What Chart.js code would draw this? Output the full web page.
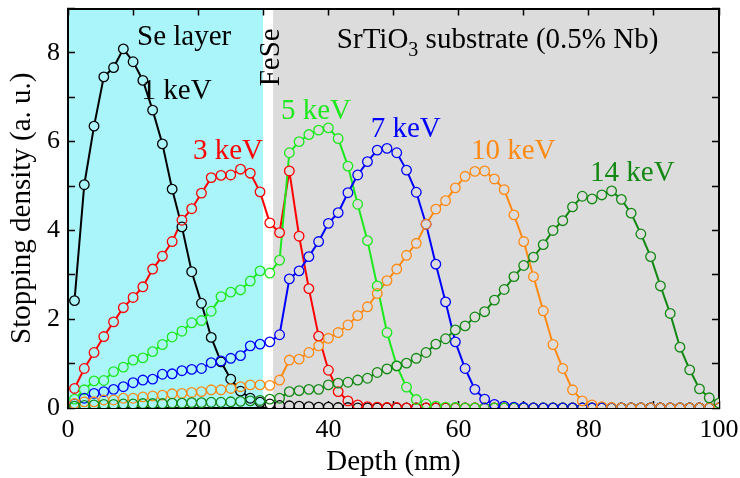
<!DOCTYPE html>
<html lang="en">
<head>
<meta charset="UTF-8">
<title>Stopping profiles</title>
<script src="https://cdn.jsdelivr.net/npm/chart.js@4.4.1/dist/chart.umd.min.js"></script>
<style>
    html, body { margin: 0; padding: 0; background: #fff; }
    #box { position: relative; width: 740px; height: 478px; }
</style>
</head>
<body>
<div id="box"><canvas id="myChart" width="740" height="478"></canvas></div>

<script>
// depth grid (nm)
var depth = [1, 2.5, 4, 5.5, 7, 8.5, 10, 11.5, 13, 14.5, 16, 17.5, 19, 20.5, 22, 23.5, 25, 26.5, 28, 29.5,
             31, 32.5, 34, 35.5, 37, 38.5, 40, 41.5, 43, 44.5, 46, 47.5, 49, 50.5, 52, 53.5, 55, 56.5, 58, 59.5,
             61, 62.5, 64, 65.5, 67, 68.5, 70, 71.5, 73, 74.5, 76, 77.5, 79, 80.5, 82, 83.5, 85, 86.5, 88, 89.5,
             91, 92.5, 94, 95.5, 97, 98.5, 100];

// stopping density (a. u.) for each implantation energy
var kev1 = [2.42, 5.03, 6.35, 7.46, 7.67, 8.09, 7.80, 7.38, 6.71, 5.95, 4.93, 4.08, 3.07, 2.36, 1.59, 1.04, 0.65, 0.38, 0.22, 0.13,
            0.09, 0.06, 0.05, 0.04, 0.03, 0.02, 0.02, 0.01, 0.01, 0, 0, 0, 0, 0, 0, 0, 0, 0, 0, 0,
            0, 0, 0, 0, 0, 0, 0, 0, 0, 0, 0, 0, 0, 0, 0, 0, 0, 0, 0, 0,
            0, 0, 0, 0, 0, 0, 0];
var kev3 = [0.44, 0.89, 1.25, 1.61, 1.94, 2.26, 2.49, 2.73, 3.13, 3.42, 3.75, 4.23, 4.49, 4.84, 5.19, 5.24, 5.25, 5.38, 5.29, 4.87,
            4.17, 3.95, 5.34, 3.87, 2.69, 1.62, 0.85, 0.37, 0.16, 0.07, 0.03, 0.02, 0.01, 0.01, 0, 0, 0, 0, 0, 0,
            0, 0, 0, 0, 0, 0, 0, 0, 0, 0, 0, 0, 0, 0, 0, 0, 0, 0, 0, 0,
            0, 0, 0, 0, 0, 0, 0];
var kev5 = [0.20, 0.41, 0.61, 0.62, 0.82, 0.92, 1.08, 1.13, 1.27, 1.43, 1.60, 1.73, 1.92, 1.97, 2.18, 2.51, 2.61, 2.66, 2.86, 3.09,
            3.04, 3.33, 5.75, 6.00, 6.16, 6.26, 6.31, 6.07, 5.45, 4.59, 3.77, 2.75, 1.70, 0.95, 0.47, 0.19, 0.09, 0.04, 0.02, 0.01,
            0, 0, 0, 0, 0, 0, 0, 0, 0, 0, 0, 0, 0, 0, 0, 0, 0, 0, 0, 0,
            0, 0, 0, 0, 0, 0, 0];
var kev7 = [0.09, 0.22, 0.33, 0.37, 0.42, 0.48, 0.57, 0.63, 0.65, 0.76, 0.77, 0.84, 0.87, 0.89, 1.02, 1.06, 1.12, 1.18, 1.40, 1.44,
            1.49, 1.65, 2.91, 3.09, 3.41, 3.75, 4.16, 4.40, 4.85, 5.25, 5.55, 5.81, 5.85, 5.75, 5.36, 4.86, 4.14, 3.24, 2.39, 1.49,
            0.89, 0.42, 0.20, 0.08, 0.04, 0.02, 0.01, 0, 0, 0, 0, 0, 0, 0, 0, 0, 0, 0, 0, 0,
            0, 0, 0, 0, 0, 0, 0];
var kev10 = [0.10, 0.14, 0.14, 0.18, 0.18, 0.22, 0.22, 0.25, 0.27, 0.29, 0.32, 0.33, 0.35, 0.37, 0.41, 0.41, 0.44, 0.48, 0.52, 0.52,
             0.51, 0.63, 1.08, 1.10, 1.25, 1.40, 1.57, 1.70, 1.87, 2.08, 2.28, 2.58, 2.87, 3.13, 3.44, 3.71, 4.14, 4.48, 4.67, 4.96,
             5.22, 5.33, 5.34, 5.16, 4.92, 4.35, 3.75, 2.96, 2.19, 1.43, 0.89, 0.41, 0.16, 0.07, 0.03, 0.01, 0, 0, 0, 0,
             0, 0, 0, 0, 0, 0, 0];
var kev14 = [0.04, 0.06, 0.07, 0.08, 0.08, 0.09, 0.09, 0.10, 0.10, 0.10, 0.11, 0.11, 0.12, 0.12, 0.13, 0.13, 0.14, 0.15, 0.16, 0.17,
             0.20, 0.22, 0.37, 0.39, 0.42, 0.42, 0.52, 0.56, 0.58, 0.63, 0.67, 0.80, 0.88, 0.95, 1.01, 1.12, 1.25, 1.44, 1.56, 1.76,
             1.85, 2.05, 2.17, 2.43, 2.67, 2.96, 3.21, 3.40, 3.68, 4.00, 4.22, 4.53, 4.77, 4.71, 4.80, 4.89, 4.70, 4.39, 3.92, 3.41,
             2.75, 2.13, 1.37, 0.86, 0.43, 0.23, 0.11];

var energies = ['1 keV', '3 keV', '5 keV', '7 keV', '10 keV', '14 keV'];
var profiles = [kev1, kev3, kev5, kev7, kev10, kev14];
var colors = ['#000000', '#ff0000', '#1ee81e', '#0000ff', '#ff8a14', '#128812'];

// layer boundaries (nm): Se layer, FeSe, SrTiO3
var layerEdges = [0, 30, 31.5, 100];
var layerColors = ['#aaf5fa', '#ffffff', '#dcdcdc'];

// labelled ticks
var xLabels = [0, 20, 40, 60, 80, 100];
var yLabels = [0, 2, 4, 6, 8];

var serif = 'Liberation Serif';

function layerColor(d) {
    for (var i = 0; i < layerColors.length; i++) {
        if (d < layerEdges[i + 1]) return layerColors[i];
    }
    return layerColors[layerColors.length - 1];
}

// each profile: line underneath, a disk of background colour, then the open ring
var datasets = [];
profiles.forEach(function (vals, k) {
    var pts = depth.map(function (d, i) { return {x: d, y: vals[i]}; });
    var fills = depth.map(layerColor);
    datasets.push({
        label: energies[k], data: pts, borderColor: colors[k], borderWidth: 2,
        pointRadius: 0, tension: 0, clip: 0, order: 30 - k
    });
    datasets.push({
        data: pts, showLine: false, pointRadius: 4.8, pointBorderWidth: 0,
        pointBackgroundColor: fills, pointBorderColor: fills, clip: 0, order: 20 - k
    });
    datasets.push({
        data: pts, showLine: false, pointRadius: 4.8, pointBorderWidth: 1.3,
        pointBackgroundColor: 'rgba(0,0,0,0)', pointBorderColor: colors[k], clip: 0, order: 10 - k
    });
});

// coloured layers behind the curves
var layersPlugin = {
    id: 'layers',
    beforeDraw: function (chart) {
        var ctx = chart.ctx, xs = chart.scales.x, area = chart.chartArea;
        ctx.save();
        for (var i = 0; i < layerColors.length; i++) {
            var x0 = xs.getPixelForValue(layerEdges[i]);
            var x1 = xs.getPixelForValue(layerEdges[i + 1]);
            ctx.fillStyle = layerColors[i];
            ctx.fillRect(x0, area.top, x1 - x0, area.bottom - area.top);
        }
        ctx.restore();
    }
};

// text annotations, placed in data coordinates
var notes = [
    ['Se layer', 10.6, 8.18, '#000000'],
    ['1 keV', 11.3, 6.95, colors[0]],
    ['3 keV', 19.2, 5.6, colors[1]],
    ['5 keV', 32.7, 6.51, colors[2]],
    ['7 keV', 46.5, 6.1, colors[3]],
    ['10 keV', 61.9, 5.6, colors[4]],
    ['14 keV', 80.2, 5.12, colors[5]]
];

var notesPlugin = {
    id: 'notes',
    afterDatasetsDraw: function (chart) {
        var ctx = chart.ctx, xs = chart.scales.x, ys = chart.scales.y;
        ctx.save();
        ctx.textBaseline = 'alphabetic';
        ctx.textAlign = 'left';
        ctx.font = '29px "' + serif + '"';
        notes.forEach(function (n) {
            ctx.fillStyle = n[3];
            ctx.fillText(n[0], xs.getPixelForValue(n[1]), ys.getPixelForValue(n[2]));
        });

        // substrate label with subscript
        var x = xs.getPixelForValue(41.3), y = ys.getPixelForValue(8.1);
        ctx.fillStyle = '#000000';
        ctx.fillText('SrTiO', x, y);
        x += ctx.measureText('SrTiO').width;
        ctx.font = '20px "' + serif + '"';
        ctx.fillText('3', x, y + 8);
        x += ctx.measureText('3').width;
        ctx.font = '29px "' + serif + '"';
        ctx.fillText(' substrate (0.5% Nb)', x, y);

        // FeSe interlayer, vertical
        ctx.translate(xs.getPixelForValue(32.4), ys.getPixelForValue(7.9));
        ctx.rotate(-Math.PI / 2);
        ctx.textAlign = 'center';
        ctx.fillText('FeSe', 0, 0);
        ctx.restore();
    }
};

var tickGrid = { drawOnChartArea: false, drawTicks: true, tickLength: -7, tickWidth: 1.5, tickColor: '#000' };
var frame = { color: '#000', width: 2 };

// fixed box sizes so the plot area sits where it should
function fixBox(w, h) {
    return function (s) {
        if (w !== null) s.width = w;
        if (h !== null) s.height = h;
        s.paddingLeft = 0; s.paddingRight = 0;
        s.paddingTop = 0; s.paddingBottom = 0;
    };
}

var ctx = document.getElementById('myChart');
var myChart = new Chart(ctx, {
    type: 'line',
    data: { datasets: datasets },
    plugins: [layersPlugin, notesPlugin],
    options: {
        responsive: false,
        animation: false,
        events: [],
        layout: { padding: { left: 0, right: 21, top: 8.5, bottom: 0 } },
        plugins: { legend: { display: false }, tooltip: { enabled: false } },
        scales: {
            x: {
                type: 'linear', position: 'bottom', min: 0, max: 100,
                ticks: {
                    stepSize: 10, autoSkip: false, maxRotation: 0, padding: 14, color: '#000',
                    font: { family: serif, size: 26 },
                    callback: function (v) { return xLabels.indexOf(v) >= 0 ? v : ''; }
                },
                grid: tickGrid,
                border: frame,
                title: {
                    display: true, text: 'Depth (nm)', color: '#000',
                    font: { family: serif, size: 29, lineHeight: 1 }, padding: { top: 0, bottom: 1 }
                },
                afterFit: fixBox(null, 70)
            },
            xTop: {
                type: 'linear', position: 'top', min: 0, max: 100,
                ticks: { stepSize: 10, display: false },
                grid: tickGrid,
                border: frame,
                afterFit: fixBox(null, 0)
            },
            y: {
                type: 'linear', position: 'left', min: 0, max: 9,
                ticks: {
                    stepSize: 1, autoSkip: false, padding: 15, color: '#000',
                    font: { family: serif, size: 26 },
                    callback: function (v) { return yLabels.indexOf(v) >= 0 ? v : ''; }
                },
                grid: tickGrid,
                border: frame,
                title: {
                    display: true, text: 'Stopping density (a. u.)', color: '#000',
                    font: { family: serif, size: 29, lineHeight: 1 }, padding: { top: 7.5, bottom: 0 }
                },
                afterFit: fixBox(68, null)
            },
            yRight: {
                type: 'linear', position: 'right', min: 0, max: 9,
                ticks: { stepSize: 1, display: false },
                grid: tickGrid,
                border: frame,
                afterFit: fixBox(0, null)
            }
        }
    }
});
</script>
</body>
</html>
